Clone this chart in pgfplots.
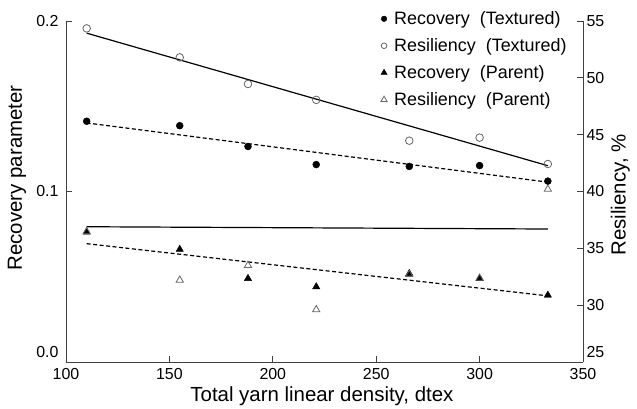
\documentclass[border=0pt]{standalone}
\usepackage{fontspec}
\setmainfont{Liberation Sans}
\usepackage{pgfplots}
\pgfplotsset{compat=1.18}

\begin{document}
\begin{tikzpicture}
\pgfplotsset{
  every axis/.append style={
    scale only axis, width=517bp, height=341bp,
    xmin=100, xmax=350, clip=false,
    tick align=inside, major tick length=6bp,
    axis line style={black!75, line width=0.9bp},
    tick style={black!75, line width=0.9bp},
    tick label style={font=\fontsize{16}{18}\selectfont,
      /pgf/number format/assume math mode=true},
    label style={font=\fontsize{20.5}{24}\selectfont},
  },
}
\useasboundingbox (-66bp,-47bp) rectangle (571bp,362bp);

% left axis: recovery parameter
\begin{axis}[
  axis x line*=bottom, axis y line*=left,
  xtick={100,150,...,350},
  xticklabel style={yshift=-3bp},
  yticklabel style={xshift=-4bp},
  ymin=0, ymax=0.2, ytick={0.1,0.2}, yticklabels={0.1,0.2},
  extra y ticks={0}, extra y tick labels={0.0},
  extra y tick style={yticklabel style={yshift=10bp}},
  xlabel={Total yarn linear density, dtex},
  ylabel={Recovery parameter},
  xlabel style={at={(axis description cs:0.495,-0.1)}, anchor=center},
  ylabel style={at={(axis description cs:-0.095,0.54)}, anchor=center},
]
% Recovery (Textured)
\addplot[only marks, mark=*, mark size=3.5bp, black, forget plot] coordinates {
  (110,0.1412) (155,0.1386) (188,0.1264) (221,0.1158) (266,0.1147) (300,0.1152) (333,0.1061)
};
% Recovery (Parent)
\addplot[only marks, mark=triangle*, mark size=4.2bp, black, forget plot] coordinates {
  (110,0.0762) (155,0.0661) (188,0.0490) (221,0.0441) (266,0.0519) (300,0.0490) (333,0.0392)
};
% trend lines
\addplot[black, line width=1.2bp, dash pattern=on 4bp off 2.5bp, forget plot] coordinates {
  (110,0.1402) (333,0.1055)
};
\addplot[black, line width=1.2bp, dash pattern=on 4bp off 2.5bp, forget plot] coordinates {
  (110,0.0694) (333,0.0388)
};
\end{axis}

% right axis: resiliency
\begin{axis}[
  axis x line=none, axis y line*=right,
  ymin=25, ymax=55, ytick={30,35,...,55},
  extra y ticks={25}, extra y tick labels={25},
  extra y tick style={yticklabel style={yshift=10bp}},
  ylabel={Resiliency, \%},
  ylabel style={at={(axis description cs:1.072,0.49)}, anchor=center},
  legend cell align=left,
  legend style={draw=none, fill=none, anchor=north west,
    at={(axis description cs:0.603,1.04)},
    font=\fontsize{18}{20}\selectfont, row sep=8.5bp,
    /tikz/every odd column/.append style={column sep=5bp}},
]
% Resiliency (Textured)
\addplot[only marks, mark=o, mark size=3.8bp, draw=black!60, line width=0.8bp, forget plot] coordinates {
  (110,54.35) (155,51.8) (188,49.46) (221,48.06) (266,44.47) (300,44.74) (333,42.42)
};
% Resiliency (Parent)
\addplot[only marks, mark=triangle, mark size=4.2bp, draw=black!60, line width=0.8bp, forget plot] coordinates {
  (110,36.47) (155,32.2) (188,33.5) (221,29.6) (266,32.7) (300,32.37) (333,40.2)
};
% trend lines
\addplot[black, line width=1.2bp, forget plot] coordinates {(110,53.93) (333,42.27)};
\addplot[black, line width=1.2bp, forget plot] coordinates {(110,36.9) (333,36.7)};

\addlegendimage{only marks, mark=*, mark size=2.8bp, black}
\addlegendentry{Recovery~~(Textured)}
\addlegendimage{only marks, mark=o, mark size=2.8bp, draw=black!60, line width=0.8bp}
\addlegendentry{Resiliency~~(Textured)}
\addlegendimage{only marks, mark=triangle*, mark size=3.6bp, black}
\addlegendentry{Recovery~~(Parent)}
\addlegendimage{only marks, mark=triangle, mark size=3.6bp, draw=black!60, line width=0.8bp}
\addlegendentry{Resiliency~~(Parent)}
\end{axis}
\end{tikzpicture}
\end{document}
